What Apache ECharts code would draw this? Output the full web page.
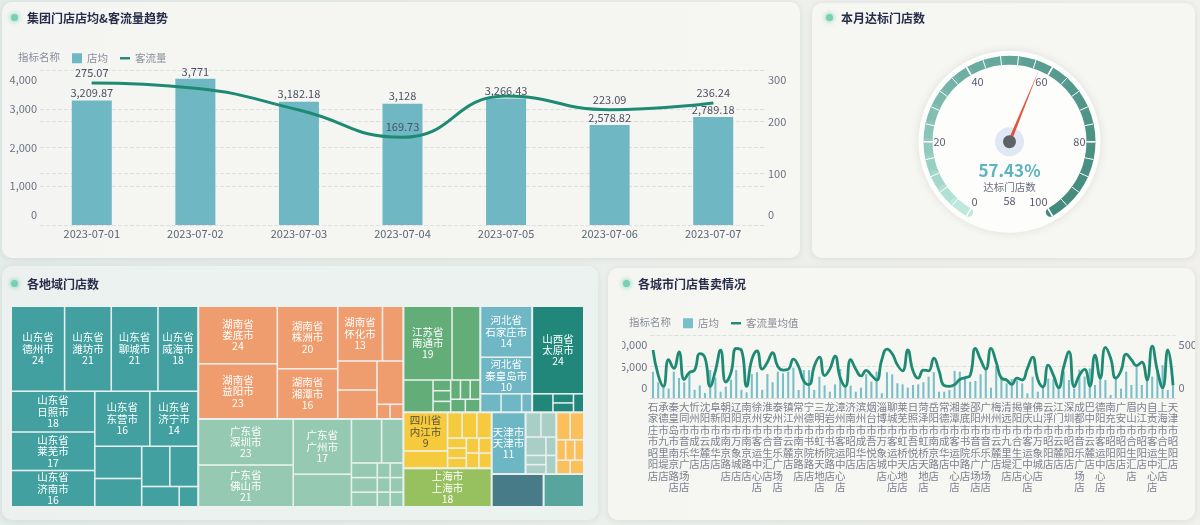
<!DOCTYPE html>
<html><head><meta charset="utf-8">
<script src="https://cdn.jsdelivr.net/npm/echarts/dist/echarts.min.js"></script>
<style>
html,body{margin:0;padding:0;width:1200px;height:525px;overflow:hidden;font-family:'Noto Sans CJK SC','Noto Sans',sans-serif;}
body{background:linear-gradient(90deg,#e4ece9 0%,#ebefec 45%,#f1f0ec 100%);position:relative;}
.panel{position:absolute;background:rgba(247,247,243,0.85);border-radius:10px;box-shadow:0 1px 6px rgba(110,130,125,0.16);}
.head{position:absolute;font-size:12px;font-weight:bold;color:#272c4a;line-height:16px;white-space:nowrap;}
.dot{position:absolute;width:7px;height:7px;border-radius:50%;background:#78d0b2;box-shadow:0 0 4px 1px rgba(120,208,178,0.7);}
.chart{position:absolute;}
</style></head><body>
<div class="panel" style="left:2px;top:2px;width:798px;height:256px"></div>
<div class="panel" style="left:812px;top:3px;width:383px;height:255px"></div>
<div class="panel" style="left:2px;top:266px;width:596px;height:254px;background:rgba(236,242,240,0.9)"></div>
<div class="panel" style="left:608px;top:268px;width:587px;height:252px"></div>

<div class="chart" id="c1" style="left:0;top:0;width:800px;height:258px"></div>
<div class="chart" id="c2" style="left:810px;top:3px;width:385px;height:255px"></div>
<div class="chart" id="c3" style="left:2px;top:266px;width:596px;height:254px"></div>
<div class="chart" id="c4" style="left:622px;top:268px;width:573px;height:252px"></div>

<div class="dot" style="left:11px;top:14px"></div><div class="head" style="left:27px;top:10px">集团门店店均&amp;客流量趋势</div>
<div class="dot" style="left:826px;top:14px"></div><div class="head" style="left:841px;top:10px">本月达标门店数</div>
<div class="dot" style="left:11px;top:280px"></div><div class="head" style="left:27px;top:276px">各地域门店数</div>
<div class="dot" style="left:623px;top:280px"></div><div class="head" style="left:638px;top:276px">各城市门店售卖情况</div>

<script>
// ---------- data ----------
const trendDates = ['2023-07-01','2023-07-02','2023-07-03','2023-07-04','2023-07-05','2023-07-06','2023-07-07'];
const trendStoreAvg = [3209.87, 3771, 3182.18, 3128, 3266.43, 2578.82, 2789.18];
const trendTraffic = [275.07, 264.5, 222.6, 169.73, 249.5, 223.09, 236.24];

const gaugeRate = 57.43;
const gaugeName = '达标门店数';
const gaugeStoreCount = 58;
const gaugeTicks = [0, 20, 40, 60, 80, 100];

const provinceNames = ['山东省','湖南省','广东省','江苏省','河北省','山西省','四川省','上海市','天津市','辽宁省','福建省','重庆市','北京市'];
const provinceCities = [
 ['德州市','潍坊市','聊城市','威海市','日照市','莱芜市','济南市','东营市','济宁市','淄博市','烟台市','滨州市','菏泽市','临沂市','泰安市'],
 ['娄底市','益阳市','株洲市','湘潭市','怀化市','长沙市','岳阳市','常德市','邵阳市','张家界市','郴州市'],
 ['深圳市','佛山市','广州市','东莞市','珠海市','惠州市','梅州市','清远市','揭阳市','肇庆市','云浮市','江门市','汕头市','湛江市','中山市'],
 ['南通市','苏州市','无锡市','南京市','徐州市','淮安市','泰州市','镇江市','常州市','扬州市','盐城市'],
 ['石家庄市','秦皇岛市','承德市','保定市','唐山市'],
 ['太原市','大同市','忻州市','晋中市','运城市'],
 ['内江市','成都市','巴中市','德阳市','南充市','广安市','眉山市','自贡市','绵阳市','乐山市','宜宾市','泸州市'],
 ['上海市'],
 ['天津市'],
 ['沈阳市','阜新市','朝阳市','辽阳市','大连市','鞍山市','锦州市'],
 ['宁德市','三明市','龙岩市','漳州市','福州市','厦门市','泉州市'],
 ['重庆市'],
 ['北京市']
];
const provinceCityStores = [
 [24,21,21,18,18,17,16,16,14,8,7,6,6,4,2],
 [24,23,20,16,13,6,6,6,6,1,1],
 [23,21,17,10,7,5,2,2,2,1,1,1,1,1,1],
 [19,11,5,1,1,1,1,1,1,1,1],
 [14,10,2,2,1],
 [24,2,1,1,1],
 [9,4,2,2,2,1,1,1,1,1,1,1],
 [18],
 [11],
 [2,2,2,1,1,1,1],
 [2,2,1,1,1,1,1],
 [9],
 [7]
];

const storeNames = [
 '石家庄市昭阳店','石家庄市万象城店','承德市九里堤店','承德市吾悦店','秦皇岛市南京路店','秦皇岛市成华店','大同市音乐广场店','大同市云麓店','忻州市成华店','忻州市书院路店',
 '沈阳市云麓店','沈阳市合生汇店','阜新市成华店','阜新市昭阳店','朝阳市南京路店','朝阳市音乐广场店','辽阳市万象城店','辽阳市吾悦店','南京市南京路店','南京市合生汇店',
 '徐州市客运中心店','徐州市云麓店','淮安市合生汇店','淮安市昭阳店','泰州市音乐广场店','泰州市虹桥天地店','镇江市云麓店','镇江市书院路店','常州市南京路店','常州市万象城店',
 '宁德市书院路店','宁德市成华店','三明市虹桥天地店','三明市昭阳店','龙岩市书院路店','龙岩市九里堤店','漳州市客运中心店','漳州市吾悦店','济南市昭阳店','济南市合生汇店',
 '滨州市成华店','滨州市南京路店','烟台市吾悦店','烟台市云麓店','淄博市万象城店','淄博市书院路店','聊城市客运中心店','聊城市九里堤店','莱芜市虹桥天地店','莱芜市昭阳店',
 '日照市吾悦店','日照市成华店','菏泽市虹桥天地店','菏泽市合生汇店','岳阳市南京路店','岳阳市吾悦店','常德市成华店','常德市九里堤店','湘潭市客运中心店','湘潭市万象城店',
 '娄底市书院路店','娄底市昭阳店','邵阳市音乐广场店','邵阳市云麓店','广州市音乐广场店','广州市合生汇店','梅州市云麓店','梅州市书院路店','清远市九里堤店','清远市吾悦店',
 '揭阳市合生汇店','揭阳市万象城店','肇庆市客运中心店','肇庆市昭阳店','佛山市万象城店','佛山市南京路店','云浮市昭阳店','云浮市成华店','江门市云麓店','江门市虹桥天地店',
 '深圳市昭阳店','深圳市合生汇店','成都市音乐广场店','成都市万象城店','巴中市云麓店','巴中市九里堤店','德阳市客运中心店','德阳市书院路店','南充市昭阳店','南充市吾悦店',
 '广安市昭阳店','广安市音乐广场店','眉山市合生汇店','眉山市云麓店','内江市昭阳店','内江市成华店','自贡市客运中心店','自贡市南京路店','上海市合生汇店','上海市万象城店',
 '天津市昭阳店'
];
const storeAvgSales = [
 4170,2500,1800,1500,4170,3170,2500,3800,1300,2000,
 800,4440,3230,1000,1800,2900,4440,1300,900,3800,
 4100,1300,3800,2500,4180,3915,4180,4810,1270,4440,
 4440,1270,3385,2000,1000,2170,4600,2060,1950,1000,
 1640,3760,2590,4180,740,4100,3760,2330,2170,1640,
 2060,2170,2500,3385,4100,1000,1000,1270,4300,4180,
 3385,2590,2700,3760,4600,1640,5000,3385,2330,3000,
 2800,2330,740,3385,1000,1640,3100,3000,2000,4200,
 2860,1500,4500,3400,4700,2060,3390,2860,480,3100,
 1500,4180,2060,4970,2060,2860,3390,4440,5200,1270,
 3000
];
const storeTrafficAvg = [
 381,181,93,304,236,366,147,202,222,352,
 318,93,216,380,127,202,393,380,93,304,
 373,229,284,359,250,222,229,309,250,134,
 106,250,325,178,229,332,161,93,304,229,
 175,219,181,143,304,388,352,263,216,381,
 216,158,222,216,317,216,99,93,106,147,
 161,181,394,304,229,394,284,158,143,108,
 158,143,235,325,147,89,261,181,82,250,
 367,89,181,227,93,341,158,402,318,158,
 216,349,304,257,284,143,412,216,82,381,
 103
];

// ---------- common ----------
const FONT = "'Noto Sans CJK SC','Noto Sans',sans-serif";
const AX = '#6d7283';
const BAR = '#6fb7c3';
const LINE = '#1e8a73';
const lineIcon = 'path://M0,0 L10,0 L10,2.4 L0,2.4 Z';
const fmt = v => Number(v).toLocaleString('en-US');
const yLabel = {color: AX, fontSize: 11, margin: 3, lineHeight: 20, verticalAlignMaxLabel: 'top', verticalAlignMinLabel: 'bottom'};

// ---------- chart 1 ----------
const c1 = echarts.init(document.getElementById('c1'));
const hiddenTrafficLabels = [1, 2, 4];
c1.setOption({
  animation: false,
  textStyle: {fontFamily: FONT},
  title: {text: '指标名称', left: 13, top: 47, textStyle: {fontSize: 10.5, fontWeight: 'normal', color: '#8a8e9b', fontFamily: FONT}},
  legend: {left: 67, top: 48, itemWidth: 10, itemHeight: 10, itemGap: 12,
    textStyle: {fontSize: 10.5, color: '#8a8e9b'},
    data: [{name: '店均', icon: 'rect'}, {name: '客流量', icon: lineIcon}]},
  grid: {left: 40, right: 35, top: 70, bottom: 33, outerBoundsMode: 'none'},
  xAxis: {type: 'category', data: trendDates, axisLine: {show: false}, axisTick: {show: false},
    axisLabel: {color: '#5e6374', fontSize: 11, margin: 3}},
  yAxis: [
    {type: 'value', min: 0, max: 4000, interval: 1000, axisLabel: yLabel,
     splitLine: {lineStyle: {type: 'dashed', color: '#dedfdf'}}},
    {type: 'value', min: 0, max: 300, interval: 100, axisLabel: yLabel,
     splitLine: {lineStyle: {type: 'dashed', color: '#dedfdf'}}}
  ],
  series: [
    {name: '店均', type: 'bar', data: trendStoreAvg, barWidth: 40,
     itemStyle: {color: BAR},
     label: {show: true, position: 'top', distance: 2, fontSize: 11, color: '#4b5063', formatter: p => fmt(p.value)}},
    {name: '客流量', type: 'line', yAxisIndex: 1, smooth: true, symbol: 'circle', symbolSize: 1,
     data: trendTraffic.map((v, i) => hiddenTrafficLabels.includes(i) ? {value: v, label: {show: false}} : v),
     itemStyle: {color: LINE}, lineStyle: {color: LINE, width: 3},
     label: {show: true, position: 'top', distance: 4, fontSize: 11, color: '#4b5063'}}
  ]
});

// ---------- chart 2 (gauge) ----------
function hex2rgb(h){return [1,3,5].map(i=>parseInt(h.substr(i,2),16));}
const bandStops = [[0,'#c6ece0'],[0.15,'#95cec1'],[0.35,'#72b2a6'],[0.55,'#5b9f93'],[0.75,'#4d9386'],[1,'#428a7c']];
function bandColor(t){
  for (let i=1;i<bandStops.length;i++){
    if (t <= bandStops[i][0]){
      const a=bandStops[i-1], b=bandStops[i]; const f=(t-a[0])/(b[0]-a[0]);
      const ca=hex2rgb(a[1]), cb=hex2rgb(b[1]);
      return 'rgb('+ca.map((c,k)=>Math.round(c+(cb[k]-c)*f)).join(',')+')';
    }
  }
  return bandStops[bandStops.length-1][1];
}
const bandSegs = [];
for (let j=0;j<25;j++) bandSegs.push([(j+1)/25, bandColor((j+0.5)/25)]);
const GC = [199.5, 138.7];
const c2 = echarts.init(document.getElementById('c2'));
c2.setOption({
  animation: false,
  textStyle: {fontFamily: FONT},
  series: [
    {type: 'pie', z: 1, center: GC, radius: [0, 91], silent: true, label: {show: false}, labelLine: {show: false},
     itemStyle: {color: '#fdfdfc', shadowBlur: 8, shadowColor: 'rgba(90,110,105,0.15)'}, data: [1]},
    {type: 'gauge', z: 5, center: GC, radius: 86, startAngle: 240, endAngle: -60, min: gaugeTicks[0], max: gaugeTicks[gaugeTicks.length-1],
     splitNumber: gaugeTicks.length - 1,
     axisLine: {roundCap: true, lineStyle: {width: 9, color: bandSegs}},
     splitLine: {length: 9, distance: -9, lineStyle: {color: '#fff', width: 1.5}},
     axisTick: {splitNumber: 5, length: 9, distance: -9, lineStyle: {color: '#fff', width: 1}},
     axisLabel: {distance: 10, color: '#5a5e72', fontSize: 11},
     pointer: {icon: 'triangle', length: 77, width: 3.5, itemStyle: {color: '#e2553a'}},
     anchor: {show: true, size: 29, showAbove: false, itemStyle: {color: '#dfe6f4'}},
     title: {show: false},
     detail: {offsetCenter: [0, 42], formatter: v => '{pct|' + v.toFixed(2) + '%}\n{nm|' + gaugeName + '}\n{cnt|' + gaugeStoreCount + '}',
       rich: {pct: {fontSize: 17, fontWeight: 'bold', color: '#5cb4bf', lineHeight: 19, fontFamily: FONT},
              nm: {fontSize: 10.5, fontWeight: 'normal', color: '#6c7080', lineHeight: 15, fontFamily: FONT},
              cnt: {fontSize: 11, fontWeight: 'normal', color: '#5a5e72', lineHeight: 12, fontFamily: FONT}}},
     data: [{value: gaugeRate, name: gaugeName}]},
    {type: 'gauge', z: 6, center: GC, radius: 86, startAngle: 240, endAngle: -60, min: 0, max: 100,
     axisLine: {show: false}, splitLine: {show: false}, axisTick: {show: false}, axisLabel: {show: false},
     pointer: {show: false}, title: {show: false}, detail: {show: false},
     anchor: {show: true, size: 13, showAbove: true, itemStyle: {color: '#5d6265'}},
     data: [{value: gaugeRate}]}
  ]
});

// ---------- chart 3 (treemap) ----------
const provinceColors = ['#42a0a1','#ef9c6e','#95c9b1','#63ad78','#6fb7c4','#20877a','#f5ca3d','#97c05e','#6db6c4','#a9cec6','#fbc05b','#467b87','#57a59d'];
const darkLabelProvinces = ['四川省'];
const hiddenLabelCities = ['重庆市', '苏州市', '东莞市'];
// ECharts orders equal values by descending data index, so the lists are fed in reverse order
const treeData = provinceNames.map((p, i) => ({
  name: p,
  itemStyle: {color: provinceColors[i]},
  children: provinceCities[i].map((c, k) => {
    const node = {name: c, value: provinceCityStores[i][k]};
    if (darkLabelProvinces.includes(p)) node.label = {color: '#5a5236'};
    return node;
  }).reverse()
})).reverse();
const c3 = echarts.init(document.getElementById('c3'));
c3.setOption({
  animation: false,
  textStyle: {fontFamily: FONT},
  series: [{
    type: 'treemap', left: 10, top: 41, width: 571, height: 199,
    roam: false, nodeClick: false, breadcrumb: {show: false},
    data: treeData,
    levels: [
      {itemStyle: {borderWidth: 0, gapWidth: 2, borderColor: '#e8efed'}},
      {itemStyle: {borderWidth: 0, gapWidth: 1.5, borderColor: '#e8efed'}},
      {itemStyle: {borderWidth: 0},
       label: {show: true, position: 'inside', align: 'center', verticalAlign: 'middle', overflow: 'none', padding: 0,
         color: '#fff', fontSize: 10.5, lineHeight: 11.3, fontFamily: FONT,
         formatter: p => {
           if (p.value < 9 || hiddenLabelCities.includes(p.name)) return '';
           return p.treePathInfo[1].name + '\n' + p.name + '\n' + p.value;
         }}}
    ]
  }]
});

// ---------- chart 4 ----------
const c4 = echarts.init(document.getElementById('c4'));
c4.setOption({
  animation: false,
  textStyle: {fontFamily: FONT},
  title: {text: '指标名称', left: 2, top: 44, textStyle: {fontSize: 10.5, fontWeight: 'normal', color: '#8a8e9b', fontFamily: FONT}},
  legend: {left: 56, top: 45, itemWidth: 10, itemHeight: 10, itemGap: 12,
    textStyle: {fontSize: 10.5, color: '#8a8e9b'},
    data: [{name: '店均', icon: 'rect'}, {name: '客流量均值', icon: lineIcon}]},
  grid: {left: 28.4, right: 19.4, top: 67, bottom: 122, outerBoundsMode: 'none'},
  xAxis: {type: 'category', data: storeNames,
    axisLine: {lineStyle: {color: '#d6d9d8'}}, axisTick: {show: false},
    axisLabel: {interval: 1, showMinLabel: true, showMaxLabel: true, color: '#7d8190', fontSize: 10.5, lineHeight: 11.5, margin: 3,
      formatter: v => v.split('').join('\n')}},
  yAxis: [
    {type: 'value', min: 0, max: 10000, interval: 5000, axisLabel: yLabel,
     splitLine: {lineStyle: {type: 'dashed', color: '#dedfdf'}}},
    {type: 'value', min: 0, max: 500, interval: 500, axisLabel: yLabel, splitLine: {show: false}}
  ],
  series: [
    {name: '店均', type: 'bar', data: storeAvgSales, barWidth: '40%', itemStyle: {color: '#79bfca'}},
    {name: '客流量均值', type: 'line', yAxisIndex: 1, smooth: true, symbol: 'none', data: storeTrafficAvg,
     itemStyle: {color: LINE}, lineStyle: {color: LINE, width: 2.8}}
  ]
});
</script>
</body></html>
